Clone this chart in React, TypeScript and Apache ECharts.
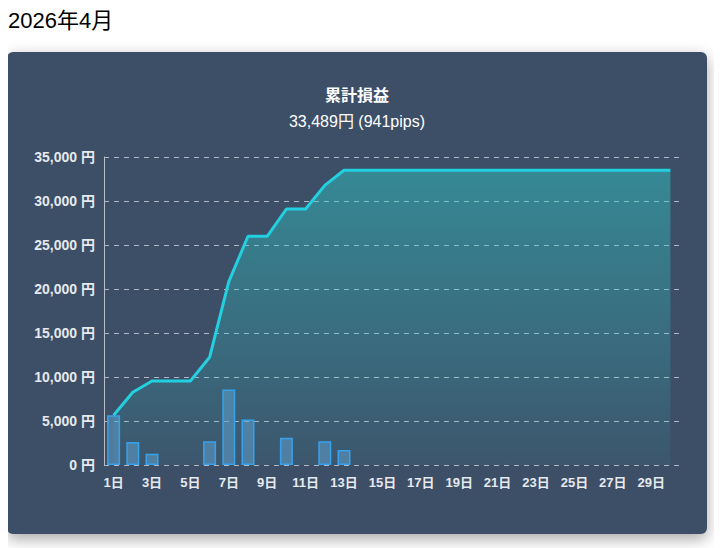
import React, { useEffect, useRef } from "react";
import * as echarts from "echarts";

const days: string[] = Array.from({ length: 30 }, (_, i) => `${i + 1}日`);

// Daily profit/loss (円); null = no trade that day
const dailyPL: (number | null)[] = [
  5650, 2610, 1285, null, null, 2695, 8590, 5160, null, 3100,
  null, 2690, 1709, null, null, null, null, null, null, null,
  null, null, null, null, null, null, null, null, null, null,
];

// Cumulative profit/loss (円)
const cumulativePL: number[] = [
  5650, 8260, 9545, 9545, 9545, 12240, 20830, 25990, 25990, 29090,
  29090, 31780, 33489, 33489, 33489, 33489, 33489, 33489, 33489, 33489,
  33489, 33489, 33489, 33489, 33489, 33489, 33489, 33489, 33489, 33489,
];

const titleText = "累計損益";
const subText = "33,489円 (941pips)";
const heading = "2026年4月";

const FONT = '"Liberation Sans", Arial, "Noto Sans CJK JP", sans-serif';

export default function App() {
  const ref = useRef<HTMLDivElement>(null);

  useEffect(() => {
    if (!ref.current) return;
    const chart = echarts.init(ref.current, null, { renderer: "svg" });
    chart.setOption({
      animation: false,
      textStyle: { fontFamily: FONT },
      title: [
        {
          text: titleText,
          left: "center",
          top: 30,
          textStyle: { color: "#ffffff", fontSize: 16, fontWeight: "bold", fontFamily: FONT },
        },
        {
          text: subText,
          left: "center",
          top: 56,
          textStyle: { color: "#ffffff", fontSize: 16, fontWeight: "normal", fontFamily: FONT },
        },
      ],
      grid: { left: 97, right: 27, top: 105, bottom: 69, containLabel: false },
      xAxis: {
        type: "category",
        data: days,
        boundaryGap: true,
        axisLine: { show: false },
        axisTick: { show: false },
        axisLabel: {
          interval: 1,
          color: "#e6e9ee",
          fontSize: 13,
          fontWeight: "bold",
          fontFamily: FONT,
          margin: 11,
        },
        splitLine: { show: false },
      },
      yAxis: {
        type: "value",
        min: 0,
        max: 35000,
        interval: 5000,
        axisLine: { show: true, lineStyle: { color: "#b8bec8", width: 1 } },
        axisTick: { show: false },
        axisLabel: {
          color: "#e6e9ee",
          fontSize: 14,
          fontWeight: "bold",
          fontFamily: FONT,
          margin: 9,
          formatter: (v: number) => `${v.toLocaleString("en-US")} 円`,
        },
        splitLine: {
          show: true,
          lineStyle: { color: "rgba(225,230,238,0.7)", type: [5, 5], width: 1 },
        },
      },
      series: [
        {
          type: "line",
          data: cumulativePL,
          showSymbol: false,
          symbol: "none",
          smooth: false,
          lineStyle: { color: "#22d0e0", width: 3 },
          areaStyle: {
            color: new echarts.graphic.LinearGradient(0, 0, 0, 1, [
              { offset: 0, color: "rgba(45,205,205,0.65)" },
              { offset: 1, color: "rgba(45,205,205,0.08)" },
            ]),
          },
          z: 2,
        },
        {
          type: "bar",
          data: dailyPL,
          barWidth: 13,
          itemStyle: {
            color: "rgba(95,160,205,0.55)",
            borderColor: "#36a2eb",
            borderWidth: 1.5,
          },
          z: 3,
        },
      ],
    });
    return () => chart.dispose();
  }, []);

  return (
    <div style={{ position: "relative", height: 540, fontFamily: FONT }}>
      <div
        style={{
          position: "absolute",
          left: 0,
          top: 0,
          fontSize: 22,
          lineHeight: "25px",
          color: "#000",
          fontFamily: FONT,
        }}
      >
        {heading}
      </div>
      <div
        style={{
          position: "absolute",
          left: -1,
          top: 44,
          width: 700,
          height: 482,
          background: "#3d4f67",
          borderRadius: 6,
          boxShadow: "0 5px 15px rgba(0,0,0,0.35)",
          overflow: "hidden",
        }}
      >
        <div ref={ref} style={{ width: 700, height: 482 }} />
      </div>
    </div>
  );
}
